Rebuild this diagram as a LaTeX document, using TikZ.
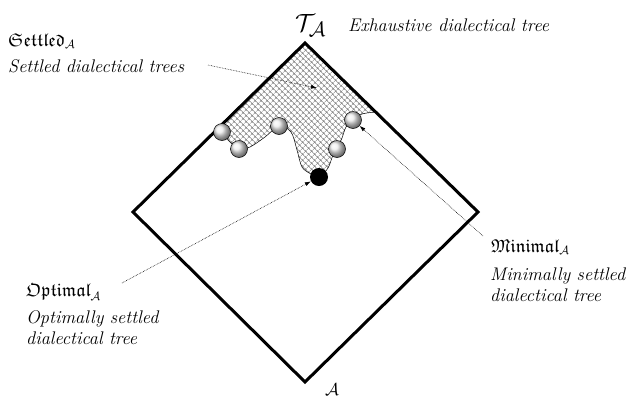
\documentclass[tikz,border=0pt]{standalone}
\usepackage{amssymb}
\usetikzlibrary{patterns.meta,arrows.meta,shadings}
\tikzset{
  lbl/.style={anchor=base west, inner sep=0pt, font=\fontsize{18.5}{22}\selectfont},
  desc/.style={lbl, font=\fontsize{18.3}{22}\selectfont\itshape},
  ball/.style={circle, minimum size=17pt, inner sep=0pt, draw=black, line width=0.5pt, ball color=white!85!gray},
  blackball/.style={circle, minimum size=18pt, inner sep=0pt, fill=black},
  pointer/.style={densely dotted, line width=0.6pt, -{Latex[length=6pt,width=4pt]}},
  frame/.style={line width=3pt, line join=miter},
}
\begin{document}
\begin{tikzpicture}[x=1pt,y=1pt]
\useasboundingbox (0,0) rectangle (627,-400);
% diamond corners
\coordinate (top) at (305,-43);
\coordinate (left) at (133,-212);
\coordinate (bottom) at (305,-382);
\coordinate (right) at (478,-212);
% settled region
\draw[line width=0.5pt, pattern={Hatch[angle=45,distance=4pt,line width=0.5pt]}, pattern color=gray]
  (376,-112) -- (top) -- (217,-128)
  plot[smooth, tension=0.55] coordinates {(217,-128) (222,-133) (230,-142) (239,-149) (250,-147) (265,-137) (279,-126) (291,-132) (297,-150) (302,-167) (311,-174) (319,-177) (328,-168) (333,-155) (337,-149) (342,-138) (346,-127) (353,-120) (362,-114) (376,-112)};
\draw[frame] (top) -- (right) -- (bottom) -- (left) -- cycle;
% balls
\node[ball] (b1) at (222,-132) {};
\node[ball] (b2) at (239,-149) {};
\node[ball] (b3) at (279,-126) {};
\node[ball] (b4) at (353,-120) {};
\node[ball] (b5) at (337,-149) {};
\node[blackball] (opt) at (319,-177) {};
% labels
\node[lbl, font=\fontsize{32}{36}\selectfont] (tA) at (295,-31) {$\mathcal{T}_{\mathcal{A}}$};
\node[desc] (exh) at (348,-31) {Exhaustive dialectical tree};
\node[lbl] (settled) at (8,-46) {$\mathfrak{Settled}_{\mathcal{A}}$};
\node[desc] (settleddesc) at (8,-72) {Settled dialectical trees};
\node[lbl] (optimal) at (26,-296) {$\mathfrak{Optimal}_{\mathcal{A}}$};
\node[desc] (optdesc1) at (26,-323) {Optimally settled};
\node[desc] (optdesc2) at (26,-344) {dialectical tree};
\node[lbl] (minimal) at (491,-252) {$\mathfrak{Minimal}_{\mathcal{A}}$};
\node[desc] (mindesc1) at (490,-280) {Minimally settled};
\node[desc] (mindesc2) at (490,-301) {dialectical tree};
\node[lbl] (aA) at (325,-395) {$\mathcal{A}$};
% pointers
\coordinate (ss) at (208,-65);
\coordinate (se) at (317,-88);
\coordinate (os) at (122,-283);
\coordinate (ms) at (483,-236);
\draw[pointer] (ss) -- (se);
\draw[pointer] (os) -- (opt);
\draw[pointer] (ms) -- (b4);
\end{tikzpicture}
\end{document}
